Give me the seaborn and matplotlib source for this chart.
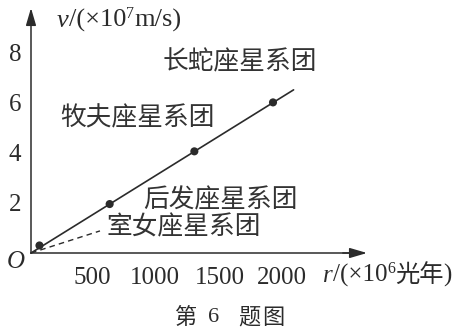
import matplotlib
matplotlib.use("Agg")
import matplotlib.pyplot as plt
from matplotlib.transforms import IdentityTransform, Affine2D
import seaborn as sns
import pandas as pd

# ---------------- data ----------------
cluster_names = ["室女座星系团", "后发座星系团", "牧夫座星系团", "长蛇座星系团"]
r_points = [70, 650, 1350, 2000]          # ×10^6 光年
v_points = [0.3, 1.95, 4.05, 6.0]         # ×10^7 m/s
fit_r = [0, 2170]
fit_v = [0, 6.5]
pointer_r = [0, 570]
pointer_v = [0, 0.88]
x_ticks = [500, 1000, 1500, 2000]
y_ticks = [2, 4, 6, 8]
x_tick_labels = ["500", "1000", "1500", "2000"]
y_tick_labels = ["2", "4", "6", "8"]

# ---------------- style ----------------
sns.set_style("white")
plt.rcParams["font.family"] = ["Liberation Serif", "Noto Sans CJK SC"]
INK = "#2b2b2b"
CJK = ["Noto Sans CJK SC", "DejaVu Sans"]

W, H = 461, 333
fig = plt.figure(figsize=(W / 100, H / 100), dpi=100)
fig.patch.set_facecolor("white")
ax = fig.add_axes([0, 0, 1, 1])
ax.set_facecolor("white")

# pixel layout of the origin and scale
PX_X0, PX_Y0 = 31, 253
SX, SY = 0.121, 25.1
ax.set_xlim(-PX_X0 / SX, (W - PX_X0) / SX)
ax.set_ylim(-(H - PX_Y0) / SY, PX_Y0 / SY)
X_TIP = (367 - PX_X0) / SX
Y_TIP = (PX_Y0 - 8) / SY

# ---------------- marks ----------------
sns.lineplot(x=fit_r, y=fit_v, ax=ax, color=INK, lw=1.2, zorder=3)
sns.lineplot(x=pointer_r, y=pointer_v, ax=ax, color=INK, lw=1.0,
             linestyle=(0, (4, 3)), zorder=3)
df = pd.DataFrame({"r": r_points, "v": v_points})
sns.scatterplot(data=df, x="r", y="v", ax=ax, color=INK, s=34,
                edgecolor="none", zorder=4)

# ---------------- axes ----------------
for s in ["top", "right"]:
    ax.spines[s].set_visible(False)
for s in ["left", "bottom"]:
    ax.spines[s].set_position(("data", 0))
    ax.spines[s].set_color(INK)
    ax.spines[s].set_linewidth(1.1)
ax.spines["left"].set_bounds(0, Y_TIP - 0.3)
ax.spines["bottom"].set_bounds(0, X_TIP - 100)
arrow = dict(arrowstyle="-|>,head_length=0.75,head_width=0.22", color=INK,
             lw=1.1, mutation_scale=14, shrinkA=0, shrinkB=0)
ax.annotate("", xy=(0, Y_TIP), xytext=(0, Y_TIP - 0.6), arrowprops=arrow)
ax.annotate("", xy=(X_TIP, 0), xytext=(X_TIP - 200, 0), arrowprops=arrow)

ax.set_xticks(x_ticks)
ax.set_xticklabels(x_tick_labels)
ax.set_yticks(y_ticks)
ax.set_yticklabels(y_tick_labels)
ax.tick_params(axis="x", direction="in", length=7, width=1.0, color=INK,
               labelsize=18, labelcolor=INK, pad=10)
ax.tick_params(axis="y", direction="in", length=7, width=1.0, color=INK,
               labelsize=18, labelcolor=INK, pad=7)
ax.set_xlabel("")
ax.set_ylabel("")
ax.grid(False)

# the printed x labels drift slightly to the right of their ticks
x_label_shift = [1, 3, 7, 9]
for tick, dx in zip(ax.xaxis.get_major_ticks(), x_label_shift):
    lab = tick.label1
    lab.set_transform(lab.get_transform() + Affine2D().translate(dx, 0))

# ---------------- texts ----------------
def px(x, y):
    return x, H - y

ident = IdentityTransform()

label_px = {
    "长蛇座星系团": (163, 62),
    "牧夫座星系团": (60, 118),
    "后发座星系团": (143, 200),
    "室女座星系团": (107, 227),
}
for name in cluster_names:
    x, y = label_px[name]
    fig.text(*px(x, y), name, transform=ident, ha="left", va="center",
             fontsize=18.5, family=CJK, color="#333333")

fig.text(*px(16, 262), "O", transform=ident, ha="center", va="center",
         fontsize=18, style="italic", family="Liberation Serif", color=INK)

fig.canvas.draw()
renderer = fig.canvas.get_renderer()


def rich(x_px, base_py, pieces):
    x = x_px
    for txt, props, rise in pieces:
        t = fig.text(x, H - base_py + rise, txt, transform=ident,
                     ha="left", va="baseline", color=INK, **props)
        bb = t.get_window_extent(renderer=renderer)
        x = bb.x1


serif = dict(family="Liberation Serif", fontsize=19)
serif_it = dict(family="Liberation Serif", fontsize=19, style="italic")
sup = dict(family="Liberation Serif", fontsize=11.5)
cjk = dict(family=CJK, fontsize=17.5)
serif_r = dict(family="Liberation Serif", fontsize=18)
serif_r_it = dict(family="Liberation Serif", fontsize=18, style="italic")

rich(57, 27, [("v", serif_it, 0), ("/(×10", serif, 0), ("7", sup, 9),
              ("m/s)", serif, 0)])
rich(323, 282, [("r", serif_r_it, 0), ("/(×10", serif_r, 0), ("6", sup, 9),
                ("光年", cjk, 0), (")", serif_r, 0)])

# caption
for ch, cx in [("第", 185), ("6", 214), ("题", 249), ("图", 273)]:
    fam = "Liberation Serif" if ch.isdigit() else CJK
    fig.text(*px(cx, 317), ch, transform=ident, ha="center", va="center",
             fontsize=16, family=fam, color=INK)

fig.savefig("out.png", dpi=100, facecolor="white")
